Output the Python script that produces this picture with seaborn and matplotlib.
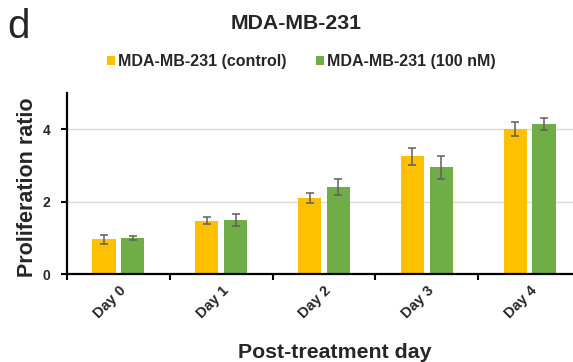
import matplotlib
matplotlib.use("Agg")
import matplotlib.pyplot as plt
import seaborn as sns
import pandas as pd
from matplotlib.patches import Patch

days = ["Day 0", "Day 1", "Day 2", "Day 3", "Day 4"]
control_mean = [0.96, 1.47, 2.10, 3.25, 4.00]
control_err = [0.12, 0.10, 0.13, 0.24, 0.20]
treated_mean = [0.99, 1.50, 2.40, 2.95, 4.14]
treated_err = [0.06, 0.17, 0.22, 0.32, 0.17]
series = ["MDA-MB-231 (control)", "MDA-MB-231 (100 nM)"]
colors = ["#FFC000", "#70AD47"]
yticks = [0, 2, 4]

df = pd.DataFrame({
    "day": days * 2,
    "series": [series[0]] * len(days) + [series[1]] * len(days),
    "value": control_mean + treated_mean,
})

sns.set_style("white")
plt.rcParams["font.family"] = ["Liberation Sans", "DejaVu Sans"]
plt.rcParams["font.weight"] = "bold"

W, H = 573, 362
fig = plt.figure(figsize=(W / 100, H / 100), dpi=100)
ax = fig.add_axes([67 / W, 1 - 274 / H, (581 - 67) / W, (274 - 93) / H])

sns.barplot(data=df, x="day", y="value", hue="series", palette=colors,
            errorbar=None, width=0.56, gap=0.2, ax=ax, legend=False,
            saturation=1, edgecolor="none")

errs = [control_err, treated_err]
for cont, e in zip(ax.containers, errs):
    xs = [b.get_x() + b.get_width() / 2 for b in cont]
    hs = [b.get_height() for b in cont]
    ax.errorbar(xs, hs, yerr=e, fmt="none", ecolor="#5f5f5f",
                elinewidth=1.1, capsize=2.8, capthick=1.1, zorder=5)

ax.set_ylim(0, 5)
ax.set_xlim(-0.5, 4.5)
ax.set_yticks(yticks)
ax.set_yticklabels([str(t) for t in yticks], fontsize=10, fontweight="bold")
ax.yaxis.grid(True, color="#d9d9d9", linewidth=1.0)
ax.set_axisbelow(True)

ax.set_xticks(range(len(days)))
ax.set_xticklabels(days, rotation=45, ha="right", rotation_mode="anchor",
                   fontsize=10.5, fontweight="bold")
ax.tick_params(axis="x", which="major", length=0, pad=7)
ax.set_xticks([i - 0.5 for i in range(len(days) + 1)], minor=True)
ax.tick_params(axis="x", which="minor", length=4, width=1.5, direction="out",
               color="black", bottom=True)
ax.tick_params(axis="y", length=4, width=1.5, direction="out", color="black",
               left=True, pad=8)

for s in ["top", "right"]:
    ax.spines[s].set_visible(False)
for s in ["left", "bottom"]:
    ax.spines[s].set_linewidth(1.6)
    ax.spines[s].set_color("black")

ax.set_xlabel("")
ax.set_ylabel("")

fig.text(27.5 / W, 1 - 187 / H, "Proliferation ratio", rotation=90,
         ha="center", va="center", fontsize=15.5, fontweight="bold")
fig.text(335 / W, 1 - 358 / H, "Post-treatment day", ha="center", va="baseline",
         fontsize=15.3, fontweight="bold")
fig.text(296.5 / W, 1 - 29 / H, "MDA-MB-231", ha="center", va="baseline",
         fontsize=15.3, fontweight="bold")
fig.text(7.5 / W, 1 - 38 / H, "d", ha="left", va="baseline",
         fontsize=29, fontweight="normal")

handles = [Patch(facecolor=c, edgecolor="none") for c in colors]
fig.legend(handles, series, loc="center", bbox_to_anchor=(301.5 / W, 1 - 61.5 / H),
           ncol=2, frameon=False, handlelength=0.5, handleheight=0.5,
           handletextpad=0.19, columnspacing=1.85, borderpad=0, borderaxespad=0,
           prop={"weight": "bold", "size": 11.5})

fig.savefig("out.png", dpi=100)
